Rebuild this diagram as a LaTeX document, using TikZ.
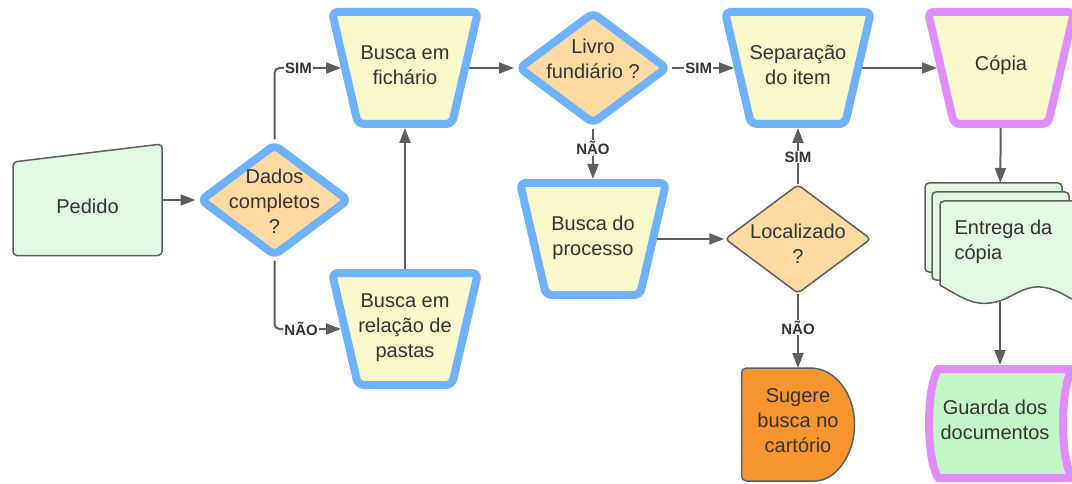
\documentclass[tikz,border=0pt]{standalone}
\usepackage{fontspec}
\setmainfont{Liberation Sans}
\usetikzlibrary{arrows.meta,shapes.geometric,calc}
\definecolor{blueb}{HTML}{6DB1FF}
\definecolor{purpleb}{HTML}{E08EFF}
\definecolor{yellowf}{HTML}{F9F9CB}
\definecolor{orangef}{HTML}{FFDBA3}
\definecolor{oranged}{HTML}{F7952F}
\definecolor{greenf}{HTML}{E1F9E2}
\definecolor{greenl}{HTML}{C3F7C8}
\definecolor{linec}{HTML}{5E5E5E}
\definecolor{txtc}{HTML}{333333}
% operacao manual (trapezio invertido) em volta de um no
\newcommand{\procshape}[2]{\draw[line width=8pt,draw=#2,fill=yellowf,rounded corners=6pt]
  ($(#1)+(-73,-56)$) -- ($(#1)+(73,-56)$) -- ($(#1)+(47,56)$) -- ($(#1)+(-47,56)$) -- cycle;}

\begin{document}
\begin{tikzpicture}[x=1pt,y=-1pt,
  txt/.style={font=\fontsize{20}{25}\selectfont,text=txtc,align=center},
  lbl/.style={fill=white,inner sep=1pt,text=txtc,font=\bfseries\fontsize{15}{15}\selectfont},
  frame/.style={inner sep=0pt,outer sep=0pt},
  procframe/.style={frame,minimum width=128pt,minimum height=120pt},
  decision/.style={diamond,minimum width=150pt,minimum height=113pt,inner sep=0pt,
    draw=blueb,line width=8pt,fill=orangef,rounded corners=6pt},
  thin/.style={draw=linec,line width=1.5pt,line join=round},
  conn/.style={draw=linec,line width=2pt,-{Triangle[length=15pt,width=11pt]}}]
\useasboundingbox (0,0) rectangle (1072,484);
\clip (0,0) rectangle (1072,484);

% pedido (entrada manual)
\node[frame,minimum width=149pt,minimum height=111pt] (pedido) at (87.5,200) {};
\draw[thin,fill=greenf,rounded corners=4pt] (13,162) -- (162,144) -- (162,255.5) -- (13,255.5) -- cycle;
\node[txt] (pedido-t) at (87.5,206) {Pedido};

\node[decision] (dados) at (274.5,200) {};
\node[txt] (dados-t) at (274.5,201) {Dados\\completos\\?};

\node[procframe] (fichario) at (405,68) {};
\procshape{fichario}{blueb}
\node[txt] (fichario-t) at (405,65) {Busca em\\fichário};

\node[procframe] (pastas) at (405,329) {};
\procshape{pastas}{blueb}
\node[txt] (pastas-t) at (405,328) {Busca em\\relação de\\pastas};

\node[decision] (livro) at (593,68) {};
\node[txt] (livro-t) at (593,59) {Livro\\fundiário ?};

\node[procframe] (processo) at (593,239) {};
\procshape{processo}{blueb}
\node[txt] (processo-t) at (593,238) {Busca do\\processo};

\node[procframe] (separacao) at (798,68) {};
\procshape{separacao}{blueb}
\node[txt] (separacao-t) at (798,65) {Separação\\do item};

\node[decision,draw=linec,line width=1.5pt,minimum width=146pt,minimum height=109pt,rounded corners=4pt] (localizado) at (798,239) {};
\node[txt] (localizado-t) at (798,243.5) {Localizado\\?};

% sugere (atraso)
\node[frame,minimum width=113pt,minimum height=113pt] (sugere) at (798,424.5) {};
\draw[thin,fill=oranged,rounded corners=5pt] (810,368) -- (741.5,368) -- (741.5,481) -- (810,481)
  [sharp corners] .. controls (835,481) and (854.5,455.7) .. (854.5,424.5)
  .. controls (854.5,393.3) and (835,368) .. (810,368) -- cycle;
\node[txt] (sugere-t) at (798,421) {Sugere\\busca no\\cartório};

\node[procframe] (copia) at (1001,68) {};
\procshape{copia}{purpleb}
\node[txt] (copia-t) at (1001,65) {Cópia};

% entrega (varios documentos)
\node[frame,minimum width=150pt,minimum height=119pt] (entrega) at (1000,242.5) {};
\draw[thin,fill=greenf,rounded corners=4pt] (925,183) rectangle (1062,272);
\draw[thin,fill=greenf,rounded corners=4pt] (932,192) rectangle (1069,280);
\draw[thin,fill=greenf] (940,285) [rounded corners=4pt] -- (940,201) -- (1085,201) [sharp corners] -- (1085,305)
  .. controls (1070,300) and (1058,288) .. (1040,287)
  .. controls (1020,286) and (1010,301) .. (990,303)
  .. controls (975,305) and (965,300) .. (940,285) -- cycle;
\node[txt,align=left,anchor=west] (entrega-t) at (951,242) {Entrega da\\ cópia};

% guarda (dados armazenados)
\node[frame,minimum width=150pt,minimum height=118pt] (guarda) at (1000,424) {};
\draw[draw=purpleb,line width=8pt,line join=round,fill=greenl] (938,369) -- (1072,369)
  .. controls (1060,390) and (1060,457) .. (1072,478) -- (938,478)
  .. controls (926,457) and (926,390) .. (938,369) -- cycle;
\node[txt] (guarda-t) at (995,420) {Guarda dos\\documentos};

% conectores
\draw[conn] (pedido) -- (dados);
\draw[conn,rounded corners=5pt] (dados) |- node[lbl,pos=0.68]{SIM} (fichario);
\draw[conn,rounded corners=5pt] (dados) |- node[lbl,pos=0.7]{NÃO} (pastas);
\draw[conn] (pastas) -- (fichario);
\draw[conn] (fichario) -- (livro);
\draw[conn] (livro) -- node[lbl,pos=0.43]{SIM} (separacao);
\draw[conn] (livro) -- node[lbl,pos=0.39]{NÃO} (processo);
\draw[conn] (processo) -- (localizado);
\draw[conn] (localizado) -- node[lbl,pos=0.48]{SIM} (separacao);
\draw[conn] (localizado) -- node[lbl,pos=0.45]{NÃO} (sugere);
\draw[conn] (separacao) -- (copia);
\draw[conn] (copia) -- (entrega);
\draw[conn] (entrega) -- (guarda);
\end{tikzpicture}
\end{document}
